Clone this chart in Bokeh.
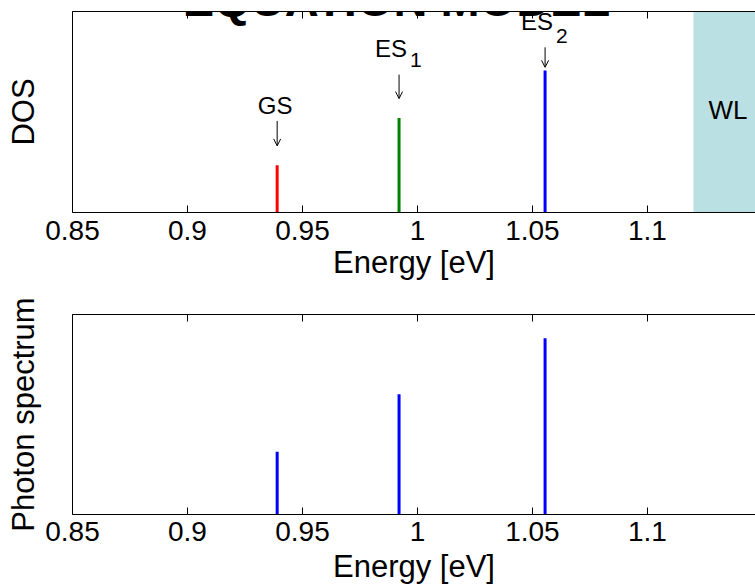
from bokeh.plotting import figure
from bokeh.layouts import column
from bokeh.models import (ColumnDataSource, FixedTicker, LinearAxis, Range1d, Arrow, Grid,
                          OpenHead, Label, BoxAnnotation, CustomJSTickFormatter,
                          CustomLabelingPolicy)
from bokeh.core.properties import value
from bokeh.embed import file_html
from bokeh.resources import INLINE

# ---------------- data ----------------
level_names = ["GS", "ES", "ES"]
level_subs = ["", "1", "2"]
energies = [0.939, 0.992, 1.0555]
dos_values = [1.0, 2.0, 3.0]
dos_colors = ["#ff0000", "#008000", "#0000ff"]
photon_values = [0.314, 0.601, 0.881]
wl_start = 1.12
wl_end = 1.15
wl_label = "WL"
x_ticks = [0.85, 0.9, 0.95, 1.0, 1.05, 1.1]
x_tick_labels = ["0.85", "0.9", "0.95", "1", "1.05", "1.1"]
title_text = "EQUATION MODEL"
x_label = "Energy [eV]"
top_y_label = "DOS"
bottom_y_label = "Photon spectrum"

# ---------------- layout / style ----------------
X_MIN, X_MAX = 0.85, 1.147
DOS_MAX = 4.25
PH_MAX = 1.0
W = 755
LEFT = 72
FONT = "Liberation Sans"
TICK_FS = "28px"
LABEL_FS = "31px"
AX_COLOR = "#000000"

TOP_H, TOP_BT, TOP_BB = 290, 11, 78
BOT_H, BOT_BT, BOT_BB = 296, 24, 70

px_per_x = (W - LEFT) / (X_MAX - X_MIN)

fmt = CustomJSTickFormatter(args=dict(tvals=x_ticks, tlabels=x_tick_labels), code="""
const i = tvals.findIndex(t => Math.abs(t - tick) < 1e-9);
return i >= 0 ? tlabels[i] : '';
""")

no_labels = CustomLabelingPolicy(code="return new Set()")


def make_fig(height, bt, bb, y_max, y_label, tick_standoff, label_standoff):
    p = figure(width=W, height=height, x_range=Range1d(X_MIN, X_MAX), y_range=Range1d(0, y_max),
               output_backend="svg", toolbar_location=None,
               x_axis_location=None, y_axis_location=None,
               min_border_left=LEFT, min_border_right=0, min_border_top=bt, min_border_bottom=bb)
    p.outline_line_color = None
    p.background_fill_color = "white"
    p.border_fill_color = "white"
    for g in p.select(type=Grid):
        g.visible = False

    xb = LinearAxis(ticker=FixedTicker(ticks=x_ticks), formatter=fmt, axis_label=x_label)
    xb.major_tick_in = 7
    xb.major_tick_out = 0
    xb.major_label_standoff = tick_standoff
    xb.major_label_text_font = FONT
    xb.major_label_text_font_size = TICK_FS
    xb.major_label_text_color = "black"
    xb.axis_label_text_font = FONT
    xb.axis_label_text_font_size = LABEL_FS
    xb.axis_label_text_font_style = "normal"
    xb.axis_label_text_color = "black"
    xb.axis_label_standoff = label_standoff
    xb.axis_line_color = AX_COLOR
    xb.major_tick_line_color = AX_COLOR
    p.add_layout(xb, "below")

    xa = LinearAxis(ticker=FixedTicker(ticks=x_ticks), major_label_policy=no_labels)
    xa.major_tick_in = 7
    xa.major_tick_out = 0
    xa.major_label_standoff = 0
    xa.axis_line_color = AX_COLOR
    xa.major_tick_line_color = AX_COLOR
    p.add_layout(xa, "above")

    yl = LinearAxis(ticker=FixedTicker(ticks=[]), axis_label=y_label)
    yl.major_tick_in = 0
    yl.major_tick_out = 0
    yl.major_label_standoff = 0
    yl.axis_label_text_font = FONT
    yl.axis_label_text_font_size = LABEL_FS
    yl.axis_label_text_font_style = "normal"
    yl.axis_label_text_color = "black"
    yl.axis_label_standoff = 32
    yl.axis_line_color = AX_COLOR
    p.add_layout(yl, "left")
    return p


# ---------------- top: DOS ----------------
top = make_fig(TOP_H, TOP_BT, TOP_BB, DOS_MAX, top_y_label, 8, 2)
top_frame_h = TOP_H - TOP_BT - TOP_BB
py_top = top_frame_h / DOS_MAX  # px per DOS unit

wl = BoxAnnotation(left=wl_start, right=wl_end, top=DOS_MAX, bottom=-3 / py_top,
                   fill_color="#bbe0e3", fill_alpha=1.0, line_color=None, level="underlay")
top.add_layout(wl)

top_src = ColumnDataSource(dict(x=energies, y0=[0] * len(energies), y1=dos_values, color=dos_colors))
top.segment(x0="x", y0="y0", x1="x", y1="y1", line_color="color", line_width=3, source=top_src)

# annotation placement (screen px above each line top)
txt_up = [59.5, 69, 49.5]
sub_up = [0, 58, 35]
tail_up = [44.3, 43.3, 23.3]
tip_up = [19.3, 19.3, 3.3]
txt_dx = [15.3, 8, 8]
sub_dx = 11

ann = ColumnDataSource(dict(
    x=energies,
    name=level_names,
    sub=level_subs,
    ty=[d + u / py_top for d, u in zip(dos_values, txt_up)],
    sy=[d + u / py_top for d, u in zip(dos_values, sub_up)],
    ay0=[d + u / py_top for d, u in zip(dos_values, tail_up)],
    ay1=[d + u / py_top for d, u in zip(dos_values, tip_up)],
    tx=[e + dx / px_per_x for e, dx in zip(energies, txt_dx)],
    sx=[e + sub_dx / px_per_x for e in energies],
))
top.text(x="tx", y="ty", text="name", source=ann, text_align="right", text_baseline="alphabetic",
         text_font=value(FONT), text_font_size="24px", text_color="black")
top.text(x="sx", y="sy", text="sub", source=ann, text_align="left", text_baseline="alphabetic",
         text_font=value(FONT), text_font_size="21px", text_color="black")
top.add_layout(Arrow(end=OpenHead(size=7, line_width=1, line_color="black"),
                     x_start="x", y_start="ay0", x_end="x", y_end="ay1",
                     line_width=1, line_color="black", source=ann))

top.add_layout(Label(x=(wl_start + wl_end) / 2, y=DOS_MAX / 2 + 2 / py_top, text=wl_label,
                     text_align="center", text_baseline="middle",
                     text_font=FONT, text_font_size="26px", text_color="black"))

title_cx = X_MIN + (396 - LEFT) / px_per_x
top.add_layout(Label(x=title_cx, y=DOS_MAX + 12 / py_top, text=title_text,
                     text_align="center", text_baseline="alphabetic",
                     text_font=FONT, text_font_size="47px", text_font_style="bold",
                     text_color="black"))

# ---------------- bottom: photon spectrum ----------------
bot = make_fig(BOT_H, BOT_BT, BOT_BB, PH_MAX, bottom_y_label, 7, 5)
bot_src = ColumnDataSource(dict(x=energies, y0=[0] * len(energies), y1=photon_values))
bot.segment(x0="x", y0="y0", x1="x", y1="y1", line_color="#0000ff", line_width=3, source=bot_src)

layout = column(top, bot, spacing=0)
open("out.html", "w").write(file_html(layout, INLINE))
